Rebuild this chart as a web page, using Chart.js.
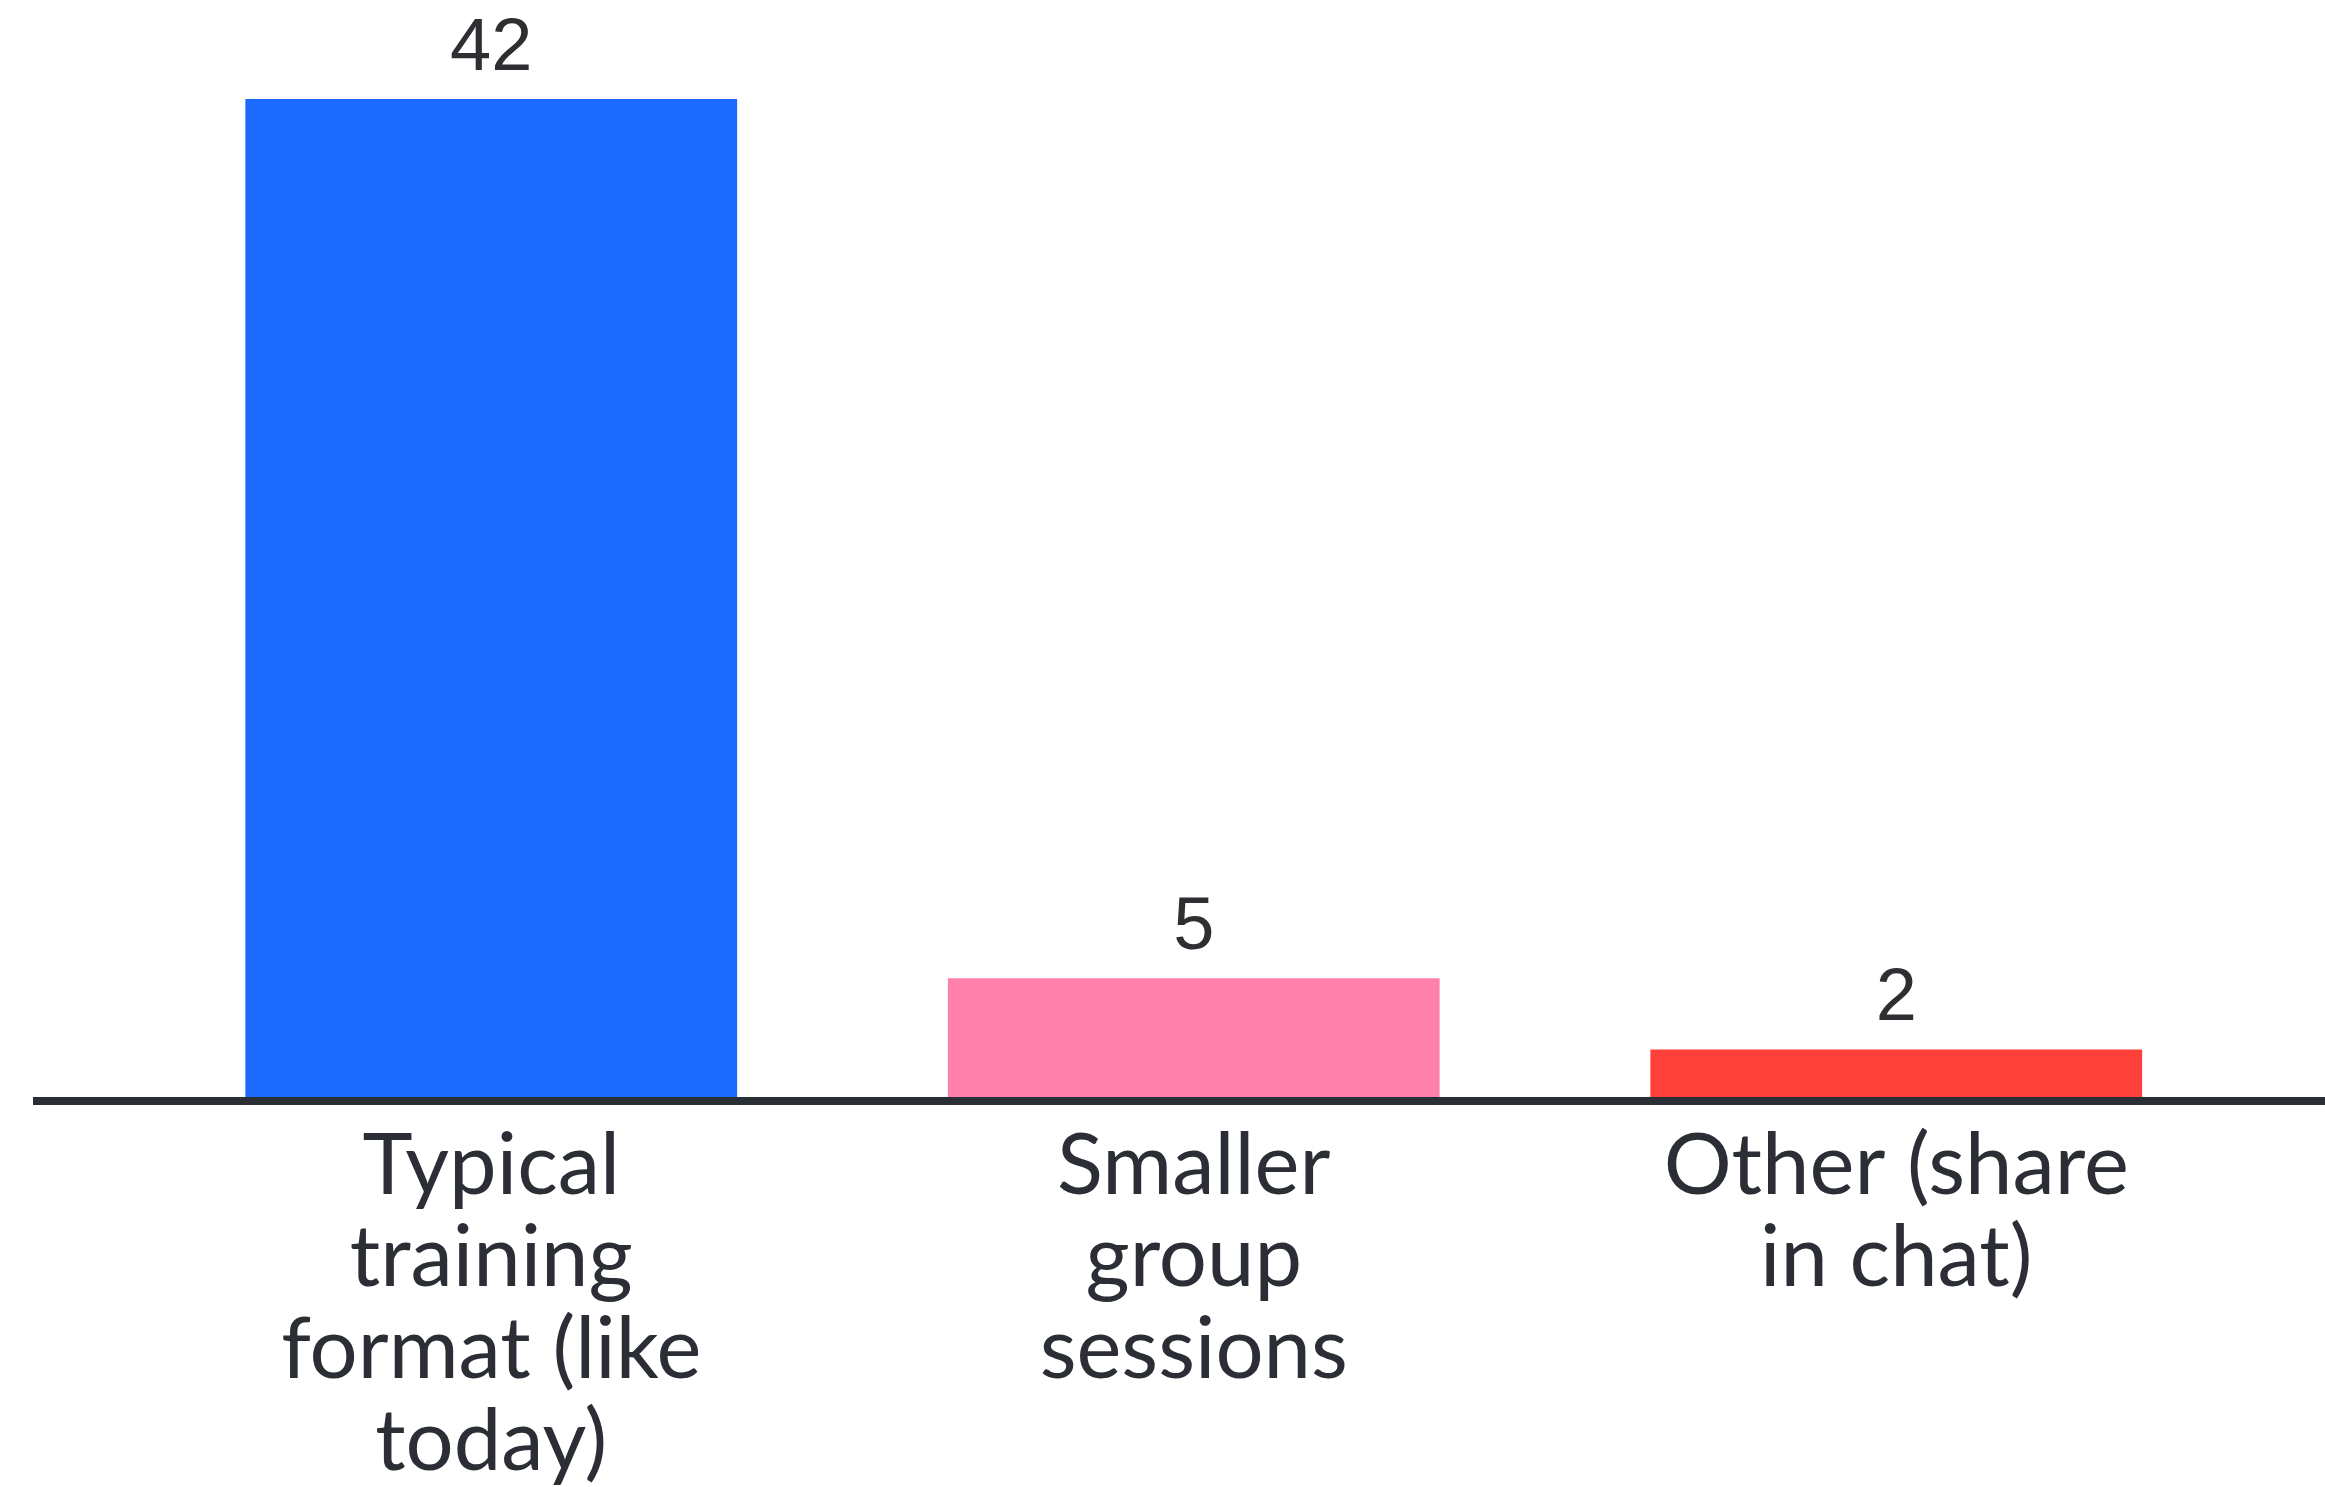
<!DOCTYPE html>
<html>
<head>
<meta charset="utf-8">
<script src="https://cdn.jsdelivr.net/npm/chart.js@4"></script>
<style>
  html, body { margin: 0; padding: 0; background: #ffffff; }
  #wrap { width: 2325px; height: 1487px; position: relative; }
</style>
</head>
<body>
<div id="wrap"><canvas id="c" width="2325" height="1487"></canvas></div>
<script>
const categories = [
  ["Typical", "training", "format (like", "today)"],
  ["Smaller", "group", "sessions"],
  ["Other (share", "in chat)"]
];
const values = [42, 5, 2];
const barColors = ["#1c69ff", "#ff80aa", "#ff3f3a"];

const baselinePlugin = {
  id: 'baseline',
  beforeDatasetsDraw(chart) {
    const ctx = chart.ctx;
    const y = chart.scales.y.getPixelForValue(0);
    ctx.save();
    ctx.fillStyle = '#2a2e35';
    ctx.fillRect(33, y, chart.width - 33, 8);
    ctx.restore();
  }
};

const valueLabelPlugin = {
  id: 'valueLabels',
  afterDatasetsDraw(chart) {
    const ctx = chart.ctx;
    const meta = chart.getDatasetMeta(0);
    ctx.save();
    ctx.font = '74px "Liberation Sans", Arial, sans-serif';
    ctx.fillStyle = '#2d2f33';
    ctx.textAlign = 'center';
    ctx.textBaseline = 'alphabetic';
    meta.data.forEach((bar, i) => {
      ctx.fillText(String(values[i]), bar.x, bar.y - 29);
    });
    ctx.restore();
  }
};

new Chart(document.getElementById('c'), {
  type: 'bar',
  data: {
    labels: categories,
    datasets: [{
      data: values,
      backgroundColor: barColors,
      borderWidth: 0,
      barPercentage: 0.7,
      categoryPercentage: 1.0
    }]
  },
  options: {
    responsive: false,
    animation: false,
    layout: { padding: { left: 140, right: 77.5, top: 99, bottom: 0 } },
    plugins: {
      legend: { display: false },
      tooltip: { enabled: false }
    },
    scales: {
      y: {
        display: false,
        min: 0,
        max: 42
      },
      x: {
        grid: { display: false },
        border: { display: false },
        afterFit(scale) { scale.height = 390; },
        ticks: {
          autoSkip: false,
          maxRotation: 0,
          minRotation: 0,
          padding: 16,
          color: '#2b2e35',
          font: { family: 'Lato, "Noto Sans", sans-serif', size: 85, lineHeight: 1.08 }
        }
      }
    }
  },
  plugins: [baselinePlugin, valueLabelPlugin]
});
</script>
</body>
</html>
